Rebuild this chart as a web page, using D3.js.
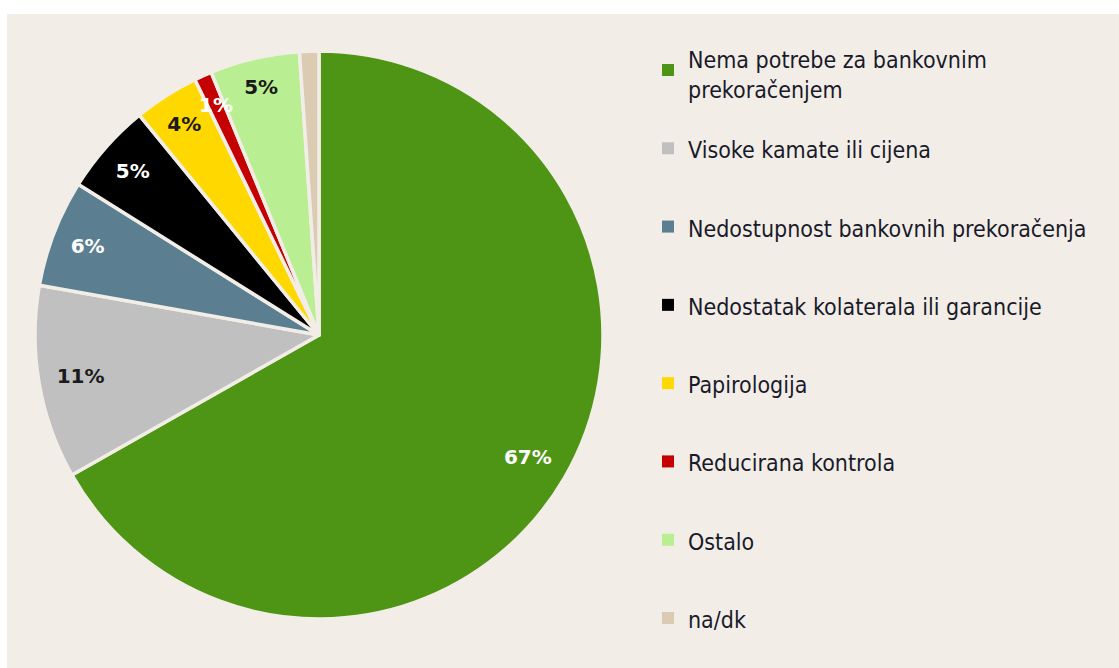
<!DOCTYPE html>
<html>
<head>
<meta charset="utf-8">
<script src="https://cdn.jsdelivr.net/npm/d3@7"></script>
<style>
  html, body { margin: 0; padding: 0; background: #ffffff; }
  svg { display: block; }
</style>
</head>
<body>
<div id="chart"></div>
<script>
// podaci
var categories = [
  "Nema potrebe za bankovnim prekoračenjem",
  "Visoke kamate ili cijena",
  "Nedostupnost bankovnih prekoračenja",
  "Nedostatak kolaterala ili garancije",
  "Papirologija",
  "Reducirana kontrola",
  "Ostalo",
  "na/dk"
];
var values = [66.8, 11.0, 6.1, 5.2, 3.7, 1.0, 5.1, 1.1];
var pctLabels = ["67%", "11%", "6%", "5%", "4%", "1%", "5%", ""];
var legendLines = [
  ["Nema potrebe za bankovnim", "prekoračenjem"],
  ["Visoke kamate ili cijena"],
  ["Nedostupnost bankovnih prekoračenja"],
  ["Nedostatak kolaterala ili garancije"],
  ["Papirologija"],
  ["Reducirana kontrola"],
  ["Ostalo"],
  ["na/dk"]
];
var colors = ["#4e9415", "#c0c0c0", "#5b7f91", "#000000", "#ffd800", "#c40000", "#baee92", "#dccbb3"];
var labelColors = ["#ffffff", "#1a1a1a", "#ffffff", "#ffffff", "#1a1a1a", "#ffffff", "#1a1a1a", "#1a1a1a"];

var width = 1119, height = 668;
var bg = "#f2eee7";

var svg = d3.select("#chart").append("svg")
    .attr("width", width)
    .attr("height", height);

svg.append("rect")
    .attr("x", 7).attr("y", 14)
    .attr("width", width - 7).attr("height", height - 14)
    .attr("fill", bg);

var color = d3.scaleOrdinal().domain(categories).range(colors);

var cx = 319, cy = 335, radius = 284;

var pie = d3.pie()
    .sort(null)
    .value(function(d) { return d.value; });

var arc = d3.arc().innerRadius(0).outerRadius(radius);

var data = categories.map(function(c, i) {
  return { name: c, value: values[i], label: pctLabels[i], labelColor: labelColors[i] };
});

var g = svg.append("g").attr("transform", "translate(" + cx + "," + cy + ")");

g.selectAll(".slice")
    .data(pie(data))
  .enter().append("path")
    .attr("class", "slice")
    .attr("d", arc)
    .attr("fill", function(d) { return color(d.data.name); })
    .attr("stroke", bg)
    .attr("stroke-width", 3.5)
    .attr("stroke-linejoin", "round");

// etikete "inside end": kutija teksta uz vanjski rub, s malim odmakom
var pad = 17;
g.selectAll(".lbl")
    .data(pie(data))
  .enter().append("text")
    .attr("class", "lbl")
    .attr("dy", "0.36em")
    .attr("text-anchor", "middle")
    .style("font-family", "'DejaVu Sans', Verdana, sans-serif")
    .style("font-weight", "bold")
    .style("font-size", "20px")
    .style("fill", function(d) { return d.data.labelColor; })
    .text(function(d) { return d.data.label; })
    .each(function(d) {
      var bb = this.getBBox();
      var a = (d.startAngle + d.endAngle) / 2;
      var half = bb.width / 2 * Math.abs(Math.sin(a)) + bb.height / 2 * 0.75 * Math.abs(Math.cos(a));
      var r = radius - pad - half;
      d3.select(this).attr("transform", "translate(" + (r * Math.sin(a)) + "," + (-r * Math.cos(a)) + ")");
    });

// legenda
var ly = d3.scalePoint().domain(categories).range([70, 618]);

var leg = svg.append("g").attr("class", "legend")
  .selectAll("g")
    .data(categories)
  .enter().append("g")
    .attr("transform", function(d) { return "translate(0," + ly(d) + ")"; });

leg.append("rect")
    .attr("x", 662).attr("y", -6)
    .attr("width", 12).attr("height", 12)
    .attr("fill", function(d) { return color(d); });

leg.append("text")
    .attr("x", 688)
    .attr("y", function(d, i) { return legendLines[i].length > 1 ? -2 : 10; })
    .style("font-family", "'DejaVu Sans Condensed', 'DejaVu Sans', sans-serif")
    .style("font-size", "23px")
    .style("fill", "#1a1a2a")
    .each(function(d, i) {
      var t = d3.select(this);
      legendLines[i].forEach(function(line, j) {
        t.append("tspan")
          .attr("x", 688)
          .attr("dy", j === 0 ? 0 : 30)
          .text(line);
      });
    });
</script>
</body>
</html>
